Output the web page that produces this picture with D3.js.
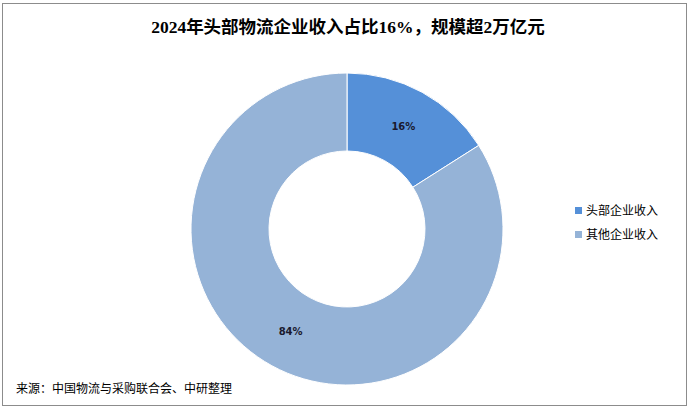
<!DOCTYPE html>
<html><head><meta charset="utf-8">
<script src="https://cdn.jsdelivr.net/npm/d3@7"></script>
<style>body{margin:0;background:#fff}svg{display:block}</style>
</head><body>
<svg id="c" width="689" height="409"></svg>
<script>
const categories = ["头部企业收入", "其他企业收入"];
const values = [16, 84];
const labels = ["16%", "84%"];
const colors = ["#5590D8", "#95B3D7"];

const svg = d3.select("#c");
svg.append("rect").attr("x",2.5).attr("y",3.5).attr("width",684).attr("height",402)
  .attr("fill","#fff").attr("stroke","#8c8c8c").attr("stroke-width",1);

svg.append("text").attr("x",348).attr("y",33).attr("text-anchor","middle")
  .attr("font-family","'Liberation Serif','Noto Sans CJK SC',serif").attr("font-size",17.5)
  .attr("font-weight","bold").attr("fill","#000")
  .text("2024年头部物流企业收入占比16%，规模超2万亿元");

const cx = 347, cy = 229, R = 156, r0 = 78;
const pie = d3.pie().sort(null).value(d => d)(values);
const arc = d3.arc().innerRadius(r0).outerRadius(R);
const labelArc = d3.arc().innerRadius(117).outerRadius(117);
const g = svg.append("g").attr("transform",`translate(${cx},${cy})`);
g.selectAll("path").data(pie).join("path").attr("d",arc)
  .attr("fill",(d,i)=>colors[i]).attr("stroke","#fff").attr("stroke-width",1);
g.selectAll("text").data(pie).join("text")
  .attr("transform",d=>`translate(${labelArc.centroid(d)})`)
  .attr("text-anchor","middle").attr("dy","0.35em")
  .attr("font-family","'DejaVu Sans',sans-serif").attr("font-size",10).attr("font-weight","bold")
  .attr("fill","#1a1a2e").text((d,i)=>labels[i]);

const lg = svg.append("g");
categories.forEach((c,i)=>{
  const y = 211 + i*24;
  lg.append("rect").attr("x",575).attr("y",y-4).attr("width",7).attr("height",7).attr("fill",colors[i]);
  lg.append("text").attr("x",586).attr("y",y).attr("dy","0.35em")
    .attr("font-family","'Noto Sans CJK SC',sans-serif").attr("font-size",12).attr("fill","#000").text(c);
});

svg.append("text").attr("x",16).attr("y",389).attr("dy","0.35em")
  .attr("font-family","'Noto Sans CJK SC',sans-serif").attr("font-size",12).attr("fill","#000")
  .text("来源：中国物流与采购联合会、中研整理");
</script>
</body></html>
